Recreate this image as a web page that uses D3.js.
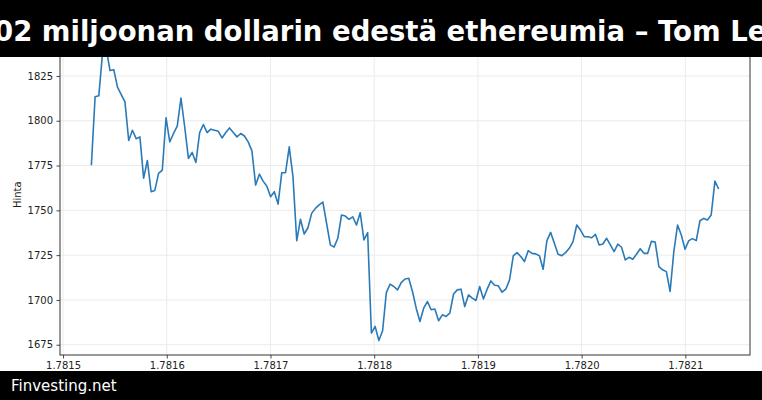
<!DOCTYPE html>
<html>
<head>
<meta charset="utf-8">
<script src="https://cdn.jsdelivr.net/npm/d3@7"></script>
<style>
  html, body { margin: 0; padding: 0; background: #fff; }
  svg { display: block; }
</style>
</head>
<body>
<svg id="chart" width="762" height="400"></svg>
<script>
// ---- Data ----
const titleText = "02 miljoonan dollarin edestä ethereumia – Tom Le";
const footerText = "Finvesting.net";
const yLabel = "Hinta";
const startTime = 1781527300; // first hourly sample (unix seconds)
const stepSeconds = 3600;     // hourly samples
const prices = [
  1775.2, 1813.4, 1814.0, 1838.0, 1840.0, 1828.0, 1828.5, 1818.8, 1814.6, 1810.5,
  1789.0, 1794.7, 1790.0, 1791.0, 1768.0, 1777.8, 1760.4, 1761.1, 1770.6, 1772.4,
  1801.6, 1788.2, 1792.9, 1797.0, 1812.7, 1796.5, 1779.0, 1782.3, 1776.7, 1793.4,
  1797.9, 1793.4, 1795.3, 1794.7, 1794.1, 1790.4, 1793.4, 1796.0, 1793.4, 1791.0,
  1792.9, 1791.5, 1788.2, 1783.2, 1764.1, 1770.2, 1766.3, 1763.5, 1757.6, 1760.4,
  1753.5, 1771.0, 1771.0, 1785.4, 1768.7, 1733.0, 1745.0, 1736.8, 1740.3, 1748.3,
  1751.1, 1753.0, 1754.6, 1742.8, 1730.7, 1729.5, 1734.4, 1747.4, 1746.8, 1745.0,
  1746.4, 1741.8, 1748.7, 1733.5, 1737.5, 1681.5, 1685.2, 1677.4, 1682.8, 1704.1,
  1708.8, 1707.5, 1705.6, 1709.7, 1711.7, 1712.1, 1704.7, 1695.4, 1688.0, 1695.4,
  1699.1, 1694.5, 1694.9, 1688.4, 1691.7, 1690.8, 1692.6, 1703.3, 1705.6, 1706.0,
  1696.3, 1702.8, 1701.0, 1699.7, 1707.5, 1700.6, 1706.0, 1710.6, 1708.2, 1707.9,
  1704.3, 1706.0, 1711.2, 1724.6, 1726.4, 1724.2, 1721.4, 1727.5, 1726.0, 1725.7,
  1724.7, 1717.1, 1733.1, 1737.7, 1731.6, 1725.5, 1724.7, 1726.4, 1728.8, 1732.5,
  1741.8, 1739.0, 1735.3, 1735.3, 1734.7, 1736.6, 1730.7, 1731.2, 1734.4, 1730.7,
  1727.0, 1731.1, 1729.4, 1722.3, 1723.8, 1722.7, 1725.5, 1728.6, 1726.0, 1726.0,
  1732.7, 1732.3, 1718.6, 1716.8, 1715.8, 1704.7, 1727.0, 1741.8, 1736.2, 1728.3,
  1733.1, 1734.2, 1733.1, 1744.2, 1745.5, 1744.6, 1747.4, 1766.3, 1761.9
];
const xTickValues = [1.7815, 1.7816, 1.7817, 1.7818, 1.7819, 1.7820, 1.7821]; // x 1e9
const yTickValues = [1675, 1700, 1725, 1750, 1775, 1800, 1825];

const series = prices.map((p, i) => ({ t: startTime + i * stepSeconds, v: p }));

// ---- Layout ----
const W = 762, H = 400;
const plot = { left: 60, right: 750, top: 34.5, bottom: 355 };
const svg = d3.select("#chart");

// matplotlib-like 5% margins
const tExt = d3.extent(series, d => d.t);
const vExt = d3.extent(series, d => d.v);
const tPad = (tExt[1] - tExt[0]) * 0.05;
const vPad = (vExt[1] - vExt[0]) * 0.05;

const x = d3.scaleLinear().domain([tExt[0] - tPad, tExt[1] + tPad]).range([plot.left, plot.right]);
const y = d3.scaleLinear().domain([vExt[0] - vPad, vExt[1] + vPad]).range([plot.bottom, plot.top]);

const fontFam = "'DejaVu Sans', sans-serif";

// grid
const grid = svg.append("g");
grid.selectAll("line.gy").data(yTickValues).enter().append("line")
  .attr("x1", plot.left).attr("x2", plot.right)
  .attr("y1", d => y(d)).attr("y2", d => y(d))
  .attr("stroke", "#ebebeb").attr("stroke-width", 1);
grid.selectAll("line.gx").data(xTickValues).enter().append("line")
  .attr("x1", d => x(d * 1e9)).attr("x2", d => x(d * 1e9))
  .attr("y1", plot.top).attr("y2", plot.bottom)
  .attr("stroke", "#ebebeb").attr("stroke-width", 1);

// line
const line = d3.line().x(d => x(d.t)).y(d => y(d.v));
svg.append("path").datum(series)
  .attr("d", line)
  .attr("fill", "none")
  .attr("stroke", "#2a7ab8")
  .attr("stroke-width", 1.6)
  .attr("stroke-linejoin", "round");

// axes
const xAxis = d3.axisBottom(x)
  .tickValues(xTickValues.map(v => v * 1e9))
  .tickFormat(d => (d / 1e9).toFixed(4))
  .tickSize(3.5).tickPadding(3.5).tickSizeOuter(0);
const yAxis = d3.axisLeft(y)
  .tickValues(yTickValues)
  .tickFormat(d3.format("d"))
  .tickSize(3.5).tickPadding(3.5).tickSizeOuter(0);

const gx = svg.append("g").attr("transform", `translate(0,${plot.bottom})`).call(xAxis);
const gy = svg.append("g").attr("transform", `translate(${plot.left},0)`).call(yAxis);
[gx, gy].forEach(g => {
  g.select(".domain").remove();
  g.selectAll(".tick line").attr("stroke", "#333").attr("stroke-width", 0.9);
  g.selectAll(".tick text").attr("fill", "#222").style("font-family", fontFam).style("font-size", "10px");
});

// frame (spines)
svg.append("rect")
  .attr("x", plot.left).attr("y", plot.top)
  .attr("width", plot.right - plot.left).attr("height", plot.bottom - plot.top)
  .attr("fill", "none").attr("stroke", "#333").attr("stroke-width", 1);

// y label
svg.append("text")
  .attr("transform", `translate(20.5,${(plot.top + plot.bottom) / 2}) rotate(-90)`)
  .attr("text-anchor", "middle")
  .style("font-family", fontFam).style("font-size", "10px")
  .attr("fill", "#222")
  .text(yLabel);

// title bar
svg.append("rect").attr("x", 0).attr("y", 0).attr("width", W).attr("height", 57).attr("fill", "#000");
svg.append("text")
  .attr("x", -6).attr("y", 41)
  .style("font-family", fontFam).style("font-weight", "bold").style("font-size", "27.5px")
  .attr("fill", "#fff")
  .text(titleText);

// footer bar
svg.append("rect").attr("x", 0).attr("y", 371).attr("width", W).attr("height", 29).attr("fill", "#000");
svg.append("text")
  .attr("x", 11).attr("y", 391)
  .style("font-family", fontFam).style("font-size", "15px")
  .attr("fill", "#fff")
  .text(footerText);
</script>
</body>
</html>
